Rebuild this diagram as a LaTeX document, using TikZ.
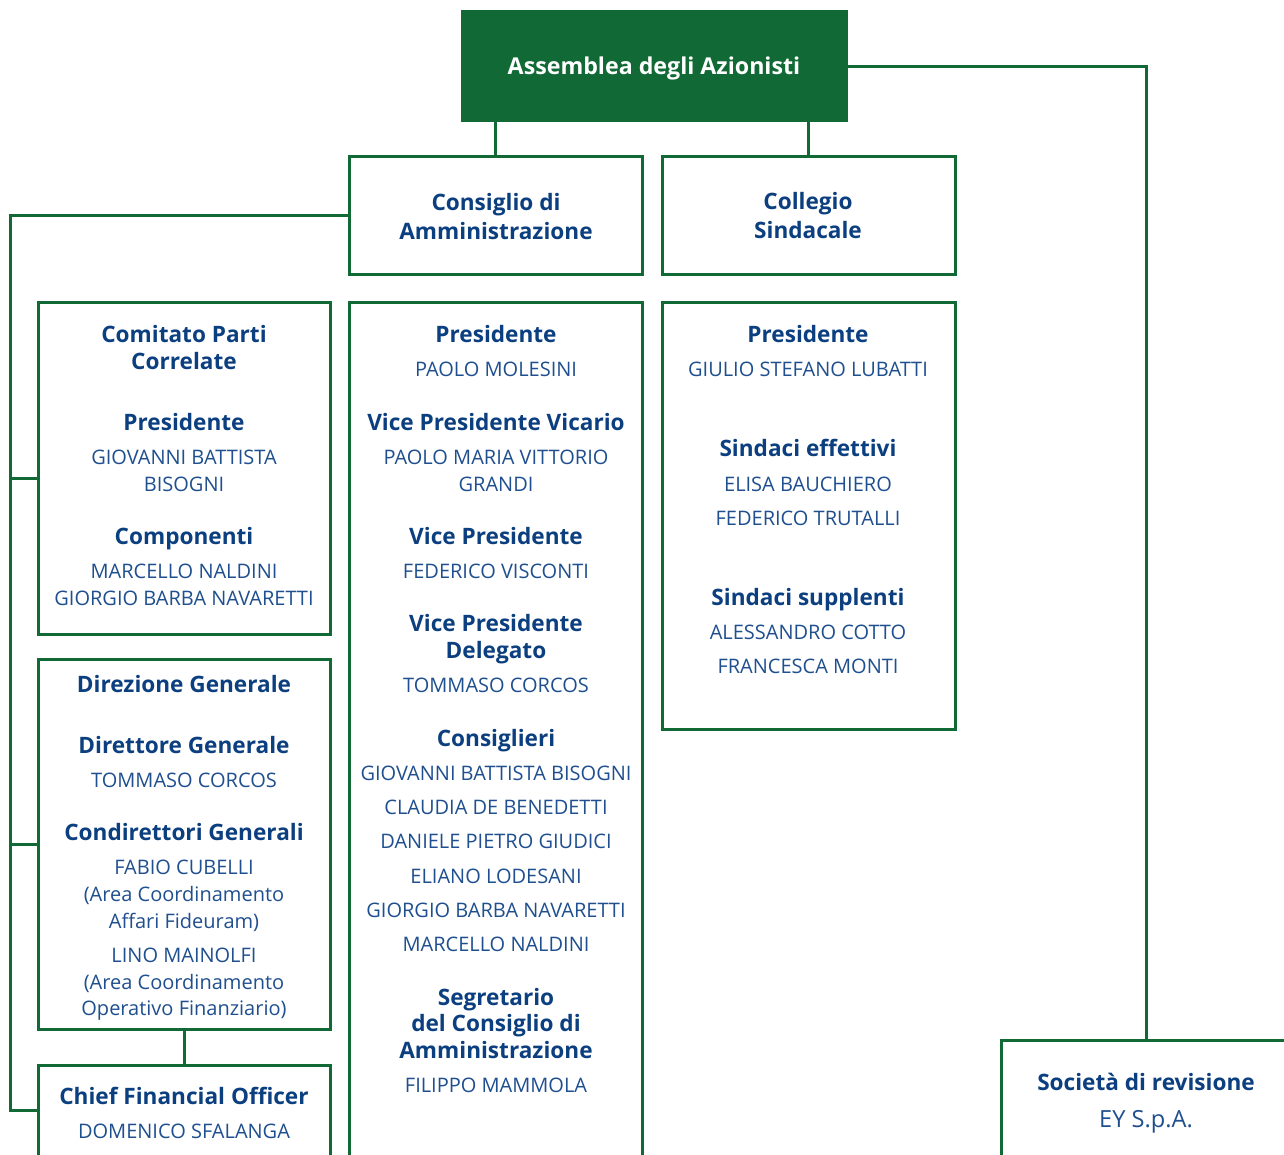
\documentclass[tikz,border=0pt]{standalone}
\usepackage{fontspec}
\setmainfont{Open Sans}
\usetikzlibrary{positioning}
\definecolor{fgreen}{HTML}{116935}
\definecolor{navy}{HTML}{0C3F7F}
\definecolor{nmblue}{HTML}{1F4F8F}

\begin{document}
\begin{tikzpicture}[
		x=0.5pt, y=-0.5pt
		,box/.style={draw=fgreen, line width=1.5pt, fill=white, rectangle, inner sep=0pt, minimum width=146.5pt}
		,hdr/.style={anchor=base, text=navy, font=\fontsize{11.3}{13.5}\selectfont\bfseries}
		,nm/.style={anchor=base, text=nmblue, font=\fontsize{10}{13.5}\selectfont}
		,link/.style={draw=fgreen, line width=1.5pt}
	]
		\useasboundingbox (0,0) rectangle (1284,1155);
		\clip (0,0) rectangle (1284,1155);
		% boxes
		\node [box, fill=fgreen, minimum width=192pt, minimum height=54.5pt] (asm) at (654,66.5) {};
		\node [box, minimum height=58.5pt] (cda) at (495.5,215.5) {};
		\node [box, minimum height=58.5pt] (cs) at (808.5,215.5) {};
		\node [box, minimum width=146pt, minimum height=166pt] (cpc) at (184,468) {};
		\node [box, minimum width=146pt, minimum height=185pt] (dg) at (184,844) {};
		\node [box, minimum width=146pt, minimum height=67.5pt] (cfo) at (184,1132.5) {};
		\node [box, minimum height=449pt] (board) at (495.5,751) {};
		\node [box, minimum height=213.5pt] (sind) at (808.5,515.5) {};
		\node [box, minimum width=145pt, minimum height=80pt] (rev) at (1146,1120) {};
		\coordinate (spine) at (10,1110);
		% connectors
		\draw [link] (cda.north) -- (cda.north |- asm.south);
		\draw [link] (cs.north) -- (cs.north |- asm.south);
		\draw [link] (asm.east) -| (rev.north);
		\draw [link] (cda.west) -| (spine) -- (spine -| cfo.west);
		\draw [link] ([yshift=-5pt]cpc.west) -- ([yshift=-5pt]cpc.west -| spine);
		\draw [link] (dg.west) -- (dg.west -| spine);
		\draw [link] (dg.south) -- (cfo.north);
		% texts
		\node [hdr, text=white, font=\fontsize{11.6}{13.5}\selectfont\bfseries] (asmt) at (654,75) {Assemblea degli Azionisti};
		\node [hdr] (cdat1) at (496,211) {Consiglio di};
		\node [hdr] (cdat2) at (496,240) {Amministrazione};
		\node [hdr] (cst1) at (808,210) {Collegio};
		\node [hdr] (cst2) at (808,239) {Sindacale};
		\foreach \y/\s/\t [count=\i] in {342/hdr/Comitato Parti, 369/hdr/Correlate,
				430/hdr/Presidente, 464/nm/GIOVANNI BATTISTA, 491/nm/BISOGNI,
				544/hdr/Componenti, 578/nm/MARCELLO NALDINI, 605/nm/GIORGIO BARBA NAVARETTI}
			\node [\s] (cpc\i) at (184,\y) {\t};
		\foreach \y/\s/\t [count=\i] in {692/hdr/Direzione Generale,
				753/hdr/Direttore Generale, 787/nm/TOMMASO CORCOS,
				840/hdr/Condirettori Generali, 874/nm/FABIO CUBELLI,
				901/nm/{(Area Coordinamento}, 928/nm/{Affari Fideuram)},
				962/nm/LINO MAINOLFI, 989/nm/{(Area Coordinamento}, 1015/nm/{Operativo Finanziario)}}
			\node [\s] (dg\i) at (184,\y) {\t};
		\node [hdr] (cfo1) at (184,1104) {Chief Financial Officer};
		\node [nm] (cfo2) at (184,1138) {DOMENICO SFALANGA};
		\foreach \y/\s/\t [count=\i] in {342/hdr/Presidente, 376/nm/PAOLO MOLESINI,
				430/hdr/Vice Presidente Vicario, 464/nm/PAOLO MARIA VITTORIO, 491/nm/GRANDI,
				544/hdr/Vice Presidente, 578/nm/FEDERICO VISCONTI,
				631/hdr/Vice Presidente, 658/hdr/Delegato, 692/nm/TOMMASO CORCOS,
				746/hdr/Consiglieri, 780/nm/GIOVANNI BATTISTA BISOGNI,
				814/nm/CLAUDIA DE BENEDETTI, 848/nm/DANIELE PIETRO GIUDICI,
				883/nm/ELIANO LODESANI, 917/nm/GIORGIO BARBA NAVARETTI,
				951/nm/MARCELLO NALDINI,
				1005/hdr/Segretario, 1031/hdr/del Consiglio di, 1058/hdr/Amministrazione,
				1092/nm/FILIPPO MAMMOLA}
			\node [\s] (board\i) at (496,\y) {\t};
		\foreach \y/\s/\t [count=\i] in {342/hdr/Presidente, 376/nm/GIULIO STEFANO LUBATTI,
				456/hdr/Sindaci effettivi, 491/nm/ELISA BAUCHIERO, 525/nm/FEDERICO TRUTALLI,
				605/hdr/Sindaci supplenti, 639/nm/ALESSANDRO COTTO, 673/nm/FRANCESCA MONTI}
			\node [\s] (sind\i) at (808,\y) {\t};
		\node [hdr] (rev1) at (1146,1090) {Società di revisione};
		\node [nm, font=\fontsize{11.8}{14}\selectfont] (rev2) at (1146,1127) {EY S.p.A.};
	\end{tikzpicture}
\end{document}
